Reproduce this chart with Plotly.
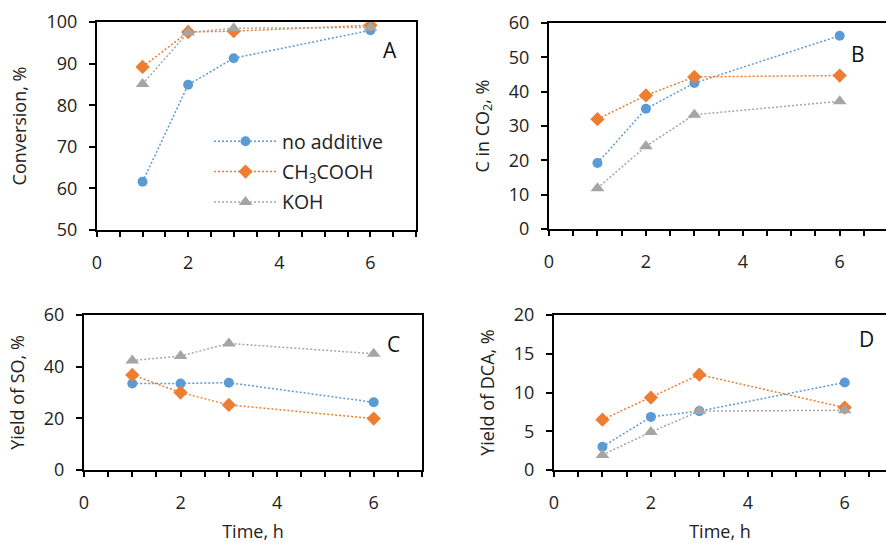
import plotly.graph_objects as go

# Reaction time, h
time_h = [1, 2, 3, 6]

series_names = ["no additive", "CH<sub>3</sub>COOH", "KOH"]

# A: conversion, %
conv_none = [61.6, 84.9, 91.3, 98.0]
conv_acid = [89.2, 97.6, 97.8, 99.2]
conv_koh = [85.1, 97.5, 98.5, 98.7]

# B: carbon in CO2, %
co2_none = [19.2, 35.0, 42.5, 56.3]
co2_acid = [32.0, 38.9, 44.3, 44.7]
co2_koh = [11.9, 24.1, 33.3, 37.2]

# C: yield of SO, %
so_none = [33.5, 33.5, 33.8, 26.2]
so_acid = [36.8, 30.0, 25.2, 19.9]
so_koh = [42.4, 44.1, 49.0, 45.0]

# D: yield of DCA, %
dca_none = [3.0, 6.85, 7.6, 11.3]
dca_acid = [6.5, 9.35, 12.3, 8.05]
dca_koh = [1.95, 4.9, 7.6, 7.7]

colors = ["#5B9BD5", "#ED7D31", "#A5A5A5"]
symbols = ["circle", "diamond", "triangle-up"]
msizes = [10, 11, 12]

FONT = "Open Sans, Noto Sans, sans-serif"
TXT = "#222222"
W, H = 886, 543

panels = [
    # (axis suffix, series, y range, y dtick, y title, letter, x px span, y px span, boxed)
    ("", [conv_none, conv_acid, conv_koh], [50, 100], 10, "Conversion, %", "A", (97, 416), (22, 230), True),
    ("2", [co2_none, co2_acid, co2_koh], [0, 60], 10, "C in CO<sub>2</sub>, %", "B", (549, 886), (23, 229), False),
    ("3", [so_none, so_acid, so_koh], [0, 60], 20, "Yield of SO, %", "C", (84, 422), (315, 470), True),
    ("4", [dca_none, dca_acid, dca_koh], [0, 20], 5, "Yield of DCA, %", "D", (554, 886), (315, 470), False),
]
letter_pos = {"A": (390, 50), "B": (858, 54), "C": (393, 344), "D": (866, 339)}

fig = go.Figure()
layout = {}
annotations = []

for suffix, data, yr, ydt, ytitle, letter, (x0, x1), (yt, yb), boxed in panels:
    xa = "x" + suffix
    ya = "y" + suffix
    for i, vals in enumerate(data):
        fig.add_trace(go.Scatter(
            x=time_h, y=vals, xaxis=xa, yaxis=ya,
            mode="lines+markers", name=series_names[i],
            legendgroup=f"g{i}",
            showlegend=(suffix == ""),
            line=dict(color=colors[i], width=1.5, dash="2px,2px"),
            marker=dict(color=colors[i], symbol=symbols[i], size=msizes[i]),
        ))
    xdom = [x0 / W, x1 / W]
    ydom = [(H - yb) / H, (H - yt) / H]
    # boxed panels end at 7 h; the right-hand panels run past the page edge
    px_per_h = (x1 - x0) / 7.0 if boxed else 48.45
    xmax = (x1 - x0) / px_per_h
    bottom_row = suffix in ("3", "4")
    xaxis = dict(
        domain=xdom, anchor=ya, range=[0, xmax], automargin=False,
        tickmode="linear", tick0=0, dtick=2,
        ticks="outside", ticklen=5, tickwidth=2, tickcolor="black",
        minor=dict(tickmode="linear", tick0=0, dtick=0.5, ticks="outside",
                   ticklen=5, tickwidth=2, tickcolor="black", showgrid=False),
        showline=True, linewidth=2, linecolor="black", mirror=True,
        showgrid=False, zeroline=False,
        ticklabelstandoff=10,
        tickfont=dict(family=FONT, size=18, color=TXT),
    )
    if bottom_row:
        xaxis["title"] = dict(text="Time, h", font=dict(family=FONT, size=18, color=TXT), standoff=29)
    layout["xaxis" + suffix] = xaxis
    layout["yaxis" + suffix] = dict(
        domain=ydom, anchor=xa, range=yr, automargin=False,
        tickmode="linear", tick0=yr[0], dtick=ydt,
        ticks="outside", ticklen=6, tickwidth=2, tickcolor="black",
        showline=True, linewidth=2, linecolor="black", mirror=boxed,
        showgrid=False, zeroline=False,
        ticklabelstandoff=8,
        tickfont=dict(family=FONT, size=18, color=TXT),
        title=dict(text=ytitle, font=dict(family=FONT, size=18, color=TXT), standoff=15),
    )
    lx, ly = letter_pos[letter]
    annotations.append(dict(
        text=letter, xref="paper", yref="paper",
        x=lx / W, y=(H - ly) / H,
        xanchor="center", yanchor="middle", showarrow=False,
        font=dict(family=FONT, size=21, color="#111111"),
    ))

fig.update_layout(
    **layout,
    annotations=annotations,
    width=W, height=H, autosize=False,
    margin=dict(l=0, r=0, t=0, b=0, pad=0, autoexpand=False),
    paper_bgcolor="white", plot_bgcolor="white",
    showlegend=True,
    legend=dict(
        x=209 / W, y=(H - 122) / H, xanchor="left", yanchor="top",
        bgcolor="rgba(0,0,0,0)", tracegroupgap=2, itemwidth=63,
        font=dict(family=FONT, size=19.5, color=TXT),
    ),
)

fig.write_html("out.html")
